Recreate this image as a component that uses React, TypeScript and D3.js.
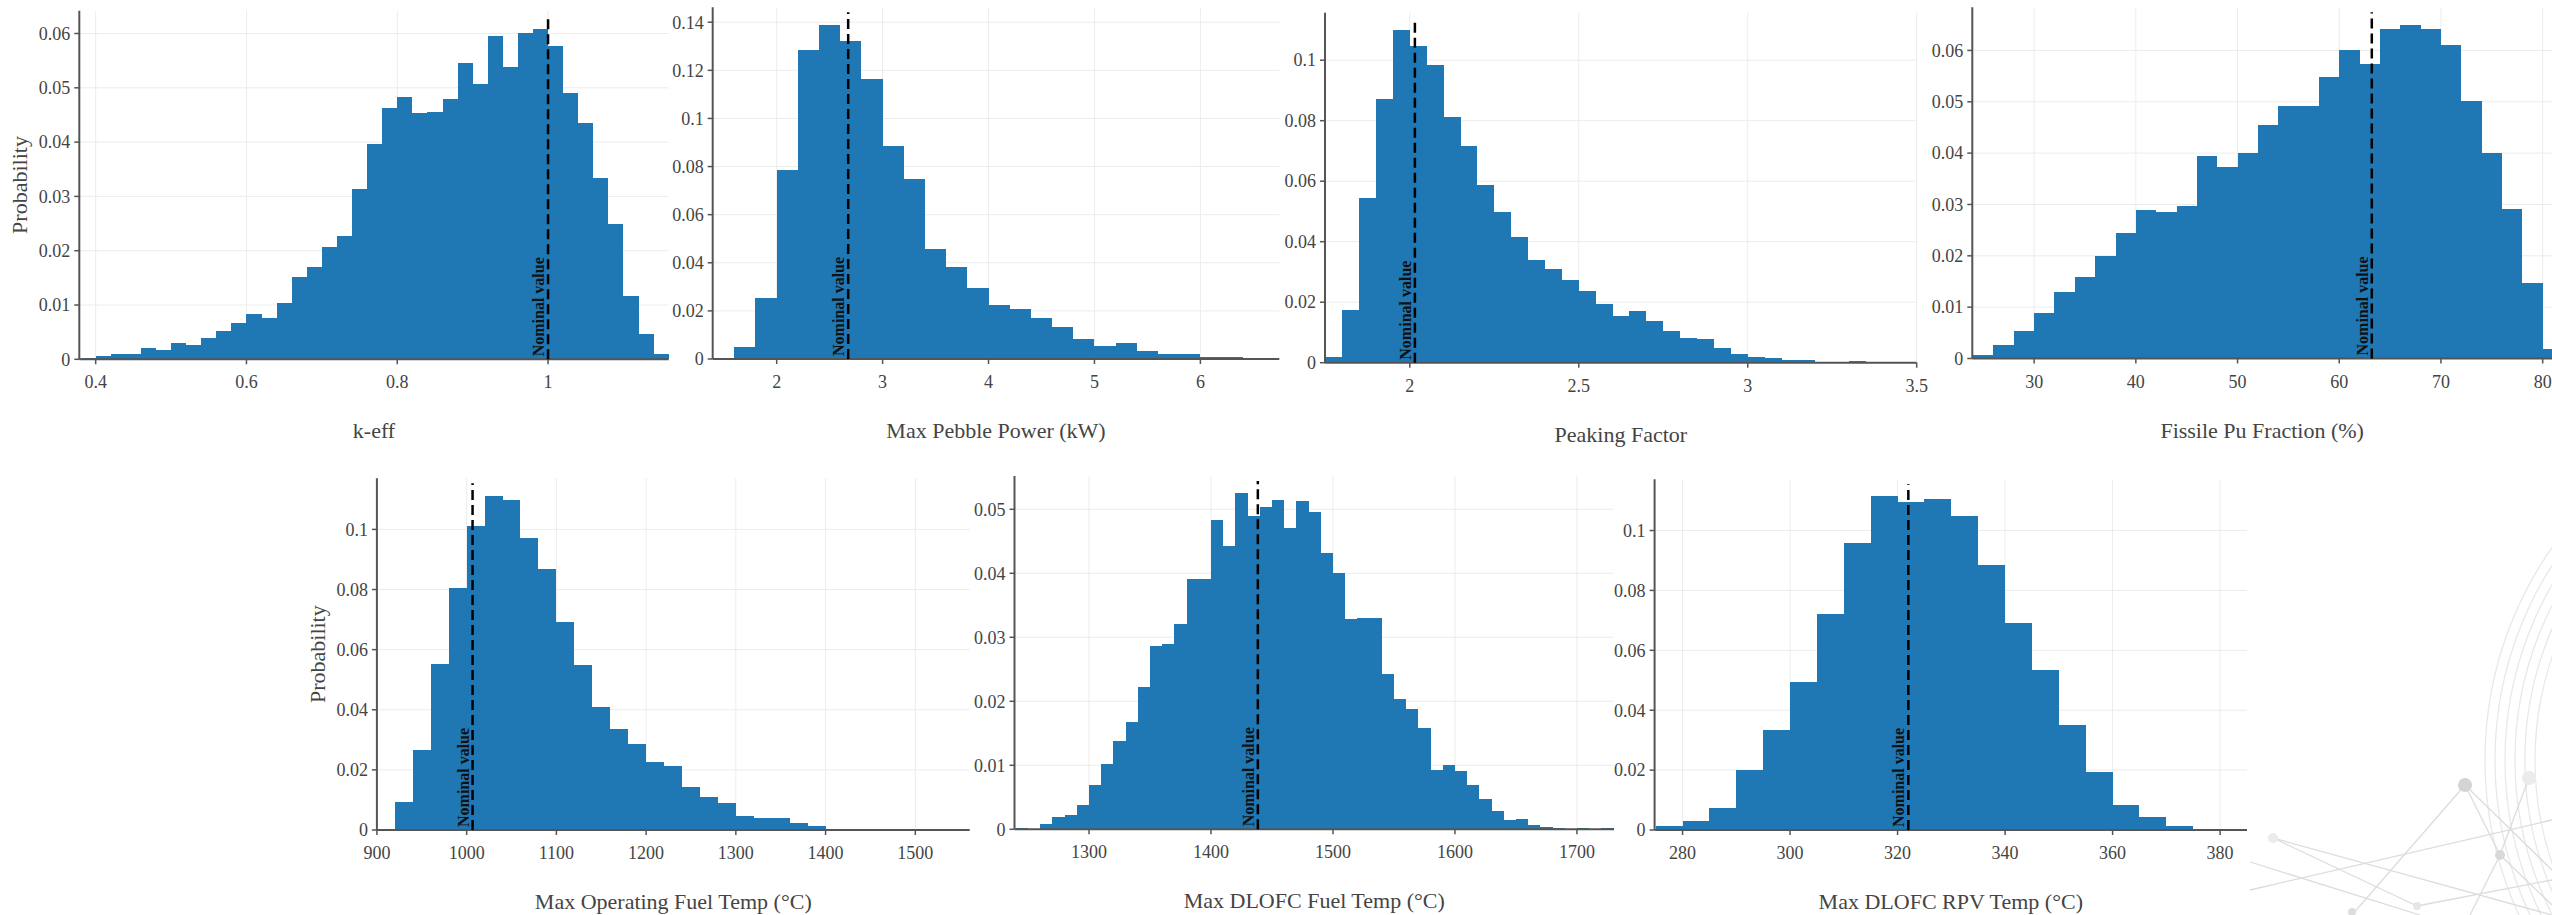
import React, { useEffect, useRef } from 'react';
import * as d3 from 'd3';

// ---------- data (probability per bin) ----------
const keffValues = [0.0002, 0.0006, 0.0009, 0.001, 0.002, 0.0018, 0.003, 0.0026, 0.004, 0.0052, 0.0066, 0.0084, 0.0076, 0.0104, 0.0152, 0.017, 0.0206, 0.0227, 0.0314, 0.0397, 0.0463, 0.0483, 0.0453, 0.0455, 0.0479, 0.0546, 0.0507, 0.0596, 0.0539, 0.0601, 0.0609, 0.0577, 0.0491, 0.0435, 0.0333, 0.0249, 0.0117, 0.0047, 0.0009];
const pebbleValues = [0.0051, 0.0254, 0.0787, 0.1283, 0.1389, 0.1321, 0.1166, 0.0884, 0.0747, 0.0459, 0.0381, 0.0295, 0.0223, 0.0208, 0.0172, 0.0134, 0.0085, 0.0053, 0.0067, 0.0035, 0.0021, 0.0021, 0.0007, 0.0007];
const peakingValues = [0.0018, 0.0173, 0.0546, 0.0872, 0.110, 0.1046, 0.0985, 0.0811, 0.0716, 0.0586, 0.0497, 0.0416, 0.034, 0.0311, 0.0275, 0.0238, 0.0194, 0.0156, 0.017, 0.0137, 0.0104, 0.0083, 0.0079, 0.005, 0.0029, 0.0018, 0.0014, 0.0008, 0.0008, 0.0003, 0.0001, 0.0004];
const puValues = [0.00065, 0.0026, 0.0054, 0.0088, 0.013, 0.0159, 0.0199, 0.0244, 0.0289, 0.0285, 0.0297, 0.0394, 0.0372, 0.0401, 0.0455, 0.0491, 0.0491, 0.0549, 0.06, 0.0573, 0.0641, 0.0649, 0.0642, 0.0611, 0.0502, 0.0401, 0.0291, 0.0148, 0.0019];
const opFuelValues = [0.0003, 0.0092, 0.0267, 0.0552, 0.0805, 0.101, 0.1112, 0.1098, 0.0972, 0.0867, 0.0691, 0.0548, 0.0409, 0.0336, 0.0285, 0.0226, 0.0212, 0.0142, 0.0109, 0.0091, 0.0048, 0.0039, 0.0039, 0.0022, 0.0014, 0.0003, 0.0003, 0.0003, 0.0003, 0, 0.0003];
const dlofcFuelValues = [0.0002, 0, 0.0009, 0.0019, 0.0022, 0.0038, 0.0069, 0.0102, 0.0138, 0.0168, 0.0223, 0.0287, 0.0289, 0.032, 0.0391, 0.0391, 0.0484, 0.0442, 0.0525, 0.0489, 0.0503, 0.0515, 0.0471, 0.0513, 0.0495, 0.0432, 0.04, 0.0328, 0.033, 0.033, 0.0242, 0.0204, 0.0188, 0.0159, 0.0093, 0.01, 0.0091, 0.0069, 0.0048, 0.0029, 0.0014, 0.0016, 0.0007, 0.0003, 0.0002, 0, 0.0002, 0, 0.0002];
const rpvValues = [0.0014, 0.003, 0.0072, 0.02, 0.0333, 0.0494, 0.072, 0.0959, 0.1114, 0.1095, 0.1105, 0.1047, 0.0886, 0.0692, 0.0533, 0.0351, 0.0193, 0.0084, 0.0043, 0.0014, 0.0003, 0.0003];

// bin starts / widths
const binStarts = [0.38, 1.6, 1.75, 24, 900, 1240, 275];
const binWidths = [0.02, 0.2, 0.05, 2, 20, 10, 5];
// nominal values
const nominalValues = [1.0, 2.675, 2.015, 63.2, 1006.6, 1438.4, 322];

// titles
const axisTitles = ['k-eff', 'Max Pebble Power (kW)', 'Peaking Factor', 'Fissile Pu Fraction (%)', 'Max Operating Fuel Temp (°C)', 'Max DLOFC Fuel Temp (°C)', 'Max DLOFC RPV Temp (°C)'];

// tick values
const keffTicks = [0.4, 0.6, 0.8, 1];
const pebbleTicks = [2, 3, 4, 5, 6];
const peakingTicks = [2, 2.5, 3, 3.5];
const puTicks = [30, 40, 50, 60, 70, 80];
const opFuelTicks = [900, 1000, 1100, 1200, 1300, 1400, 1500];
const dlofcFuelTicks = [1300, 1400, 1500, 1600, 1700];
const rpvTicks = [280, 300, 320, 340, 360, 380];
const probTicks01 = [0, 0.01, 0.02, 0.03, 0.04, 0.05, 0.06];
const probTicks02to14 = [0, 0.02, 0.04, 0.06, 0.08, 0.1, 0.12, 0.14];
const probTicks02to10 = [0, 0.02, 0.04, 0.06, 0.08, 0.1];
const probTicks01to05 = [0, 0.01, 0.02, 0.03, 0.04, 0.05];

// ---------- layout ----------
const layout = [
  { l: 79.3, r: 668.7, t: 10.7, b: 359.3, x0: 0.3783, x1: 1.16, yMax: 0.0642, yTitle: true },
  { l: 712.7, r: 1279.3, t: 7.3, b: 359, x0: 1.396, x1: 6.745, yMax: 0.1462, yTitle: false },
  { l: 1325, r: 1916.7, t: 12.7, b: 362.7, x0: 1.749, x1: 3.5, yMax: 0.1157, yTitle: false },
  { l: 1972.3, r: 2563, t: 7.3, b: 358.5, x0: 23.92, x1: 82, yMax: 0.0684, yTitle: false },
  { l: 376.9, r: 969.7, t: 478.3, b: 830, x0: 900, x1: 1560.6, yMax: 0.117, yTitle: true },
  { l: 1014.5, r: 1614, t: 476, b: 829.3, x0: 1238.9, x1: 1730.4, yMax: 0.0552, yTitle: false },
  { l: 1654.6, r: 2247, t: 479.3, b: 830, x0: 274.8, x1: 385, yMax: 0.1171, yTitle: false },
];

const seriesValues = [keffValues, pebbleValues, peakingValues, puValues, opFuelValues, dlofcFuelValues, rpvValues];
const xTickSets = [keffTicks, pebbleTicks, peakingTicks, puTicks, opFuelTicks, dlofcFuelTicks, rpvTicks];
const yTickSets = [probTicks01, probTicks02to14, probTicks02to10, probTicks01, probTicks02to10, probTicks01to05, probTicks02to10];

// background decoration (faint network graphic, bottom right)
const decoArcRadii = [370, 360, 350, 340, 330, 320];
const decoNodes: [number, number, number, string][] = [
  [2465, 785, 7, '#d4d4d4'], [2529, 778, 7, '#ebebeb'], [2500, 855, 5, '#d8d8d8'],
  [2273, 838, 5, '#ebebeb'], [2352, 912, 4, '#dddddd'], [2417, 906, 4, '#e6e6e6'],
];
const decoLinks: [number, number, number, number][] = [
  [2465, 785, 2352, 915], [2465, 785, 2500, 855], [2500, 855, 2552, 905], [2465, 785, 2552, 870],
  [2273, 838, 2417, 906], [2273, 838, 2552, 915], [2250, 862, 2420, 915], [2529, 778, 2500, 855],
  [2500, 855, 2470, 915], [2250, 890, 2552, 820], [2417, 906, 2552, 880],
];

const W = 2552;
const H = 915;
const FONT = '"Liberation Serif", "Times New Roman", serif';
const BAR = '#1f77b4';

export default function App() {
  const ref = useRef<SVGSVGElement | null>(null);

  useEffect(() => {
    const svg = d3.select(ref.current);
    svg.selectAll('*').remove();

    svg.append('rect').attr('width', W).attr('height', H).attr('fill', '#ffffff');

    // decoration
    const deco = svg.append('g');
    const arc = d3.arc<number>().innerRadius(d => d).outerRadius(d => d).startAngle(-Math.PI).endAngle(0);
    deco.selectAll('path').data(decoArcRadii).join('path')
      .attr('transform', 'translate(2855,760)')
      .attr('d', d => arc(d) as string)
      .attr('fill', 'none').attr('stroke', '#e8e8e8').attr('stroke-width', 1.3);
    deco.selectAll('line').data(decoLinks).join('line')
      .attr('x1', d => d[0]).attr('y1', d => d[1]).attr('x2', d => d[2]).attr('y2', d => d[3])
      .attr('stroke', '#dcdcdc').attr('stroke-width', 1.3);
    deco.selectAll('circle').data(decoNodes).join('circle')
      .attr('cx', d => d[0]).attr('cy', d => d[1]).attr('r', d => d[2]).attr('fill', d => d[3]);

    layout.forEach((p, i) => {
      const values = seriesValues[i];
      const bins = values.map((v, k) => ({ x0: binStarts[i] + k * binWidths[i], x1: binStarts[i] + (k + 1) * binWidths[i], v }));
      const x = d3.scaleLinear().domain([p.x0, p.x1]).range([p.l, p.r]);
      const y = d3.scaleLinear().domain([0, p.yMax]).range([p.b, p.t]);
      const g = svg.append('g');
      const fmt = (d: number) => String(+d.toFixed(4));

      // grid
      g.selectAll('line.xg').data(xTickSets[i]).join('line')
        .attr('x1', d => x(d)).attr('x2', d => x(d)).attr('y1', p.t).attr('y2', p.b)
        .attr('stroke', '#ececec').attr('stroke-width', 1);
      g.selectAll('line.yg').data(yTickSets[i].filter(d => d > 0)).join('line')
        .attr('x1', p.l).attr('x2', p.r).attr('y1', d => y(d)).attr('y2', d => y(d))
        .attr('stroke', '#ececec').attr('stroke-width', 1);

      // bars
      g.append('g').selectAll('rect').data(bins.filter(b => b.v > 0)).join('rect')
        .attr('x', b => x(Math.max(b.x0, p.x0)))
        .attr('width', b => Math.max(0, x(Math.min(b.x1, p.x1)) - x(Math.max(b.x0, p.x0))))
        .attr('y', b => y(b.v))
        .attr('height', b => p.b - y(b.v))
        .attr('fill', BAR)
        .attr('shape-rendering', 'crispEdges');

      // axes lines
      g.append('line').attr('x1', p.l).attr('x2', p.l).attr('y1', p.t).attr('y2', p.b)
        .attr('stroke', '#555').attr('stroke-width', 2);
      g.append('line').attr('x1', p.l).attr('x2', p.r).attr('y1', p.b).attr('y2', p.b)
        .attr('stroke', '#555').attr('stroke-width', 2);

      // x ticks
      const xt = g.append('g').selectAll('g').data(xTickSets[i]).join('g');
      xt.append('line').attr('x1', d => x(d)).attr('x2', d => x(d)).attr('y1', p.b).attr('y2', p.b + 5)
        .attr('stroke', '#555').attr('stroke-width', 1.5);
      xt.append('text').attr('x', d => x(d)).attr('y', p.b + 29)
        .attr('text-anchor', 'middle').attr('font-family', FONT).attr('font-size', 18).attr('fill', '#444')
        .text(d => fmt(d));

      // y ticks
      const yt = g.append('g').selectAll('g').data(yTickSets[i]).join('g');
      yt.append('line').attr('x1', p.l - 5).attr('x2', p.l).attr('y1', d => y(d)).attr('y2', d => y(d))
        .attr('stroke', '#555').attr('stroke-width', 1.5);
      yt.append('text').attr('x', p.l - 9).attr('y', d => y(d)).attr('dy', '0.35em')
        .attr('text-anchor', 'end').attr('font-family', FONT).attr('font-size', 18).attr('fill', '#444')
        .text(d => fmt(d));

      // nominal line
      const nx = x(nominalValues[i]);
      g.append('line').attr('x1', nx).attr('x2', nx).attr('y1', y(0)).attr('y2', y(p.yMax) + 5)
        .attr('stroke', '#000').attr('stroke-width', 2.5).attr('stroke-dasharray', '10,5');
      g.append('text')
        .attr('transform', `translate(${nx - 4},${p.b - 3}) rotate(-90)`)
        .attr('font-family', FONT).attr('font-size', 16).attr('font-weight', 'bold').attr('fill', '#111')
        .text('Nominal value');

      // x title
      g.append('text').attr('x', (p.l + Math.min(p.r, W)) / 2).attr('y', p.b + 79)
        .attr('text-anchor', 'middle').attr('font-family', FONT).attr('font-size', 22).attr('fill', '#444')
        .text(axisTitles[i]);

      if (p.yTitle) {
        g.append('text')
          .attr('transform', `translate(${p.l - 52},${(p.t + p.b) / 2}) rotate(-90)`)
          .attr('text-anchor', 'middle').attr('font-family', FONT).attr('font-size', 22).attr('fill', '#444')
          .text('Probability');
      }
    });
  }, []);

  return (
    <svg ref={ref} width={W} height={H} viewBox={`0 0 ${W} ${H}`}
      style={{ position: 'absolute', left: 0, top: 0, display: 'block' }} />
  );
}
